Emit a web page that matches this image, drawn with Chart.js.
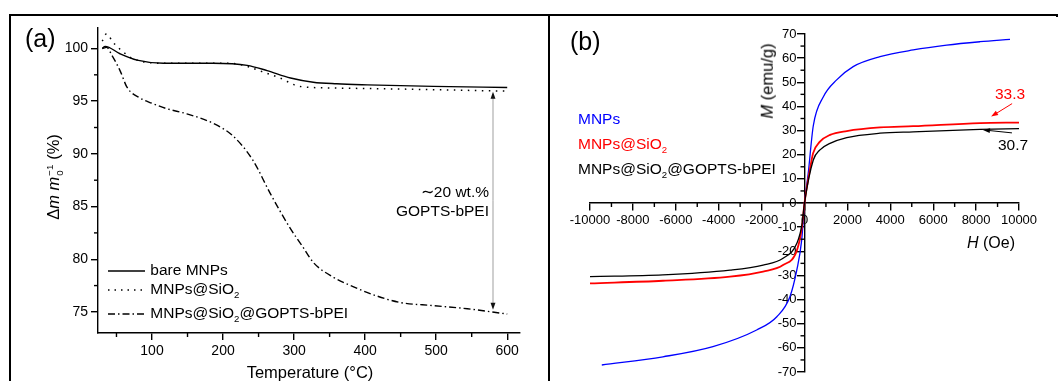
<!DOCTYPE html>
<html>
<head>
<meta charset="utf-8">
<script src="https://cdn.jsdelivr.net/npm/chart.js@4.4.1/dist/chart.umd.min.js"></script>
<style>
  body { margin: 0; width: 1058px; height: 381px; background: #fff; position: relative; overflow: hidden;
         font-family: "Liberation Sans", Arial, sans-serif; color: #000; }
  .abs { position: absolute; white-space: nowrap; line-height: 1; }
  .line { position: absolute; background: #000; }
  canvas { position: absolute; }
  sub, sup { font-size: 62%; line-height: 0; }
  .lg { font-size: 15.5px; }
  .ss { display: inline-flex; flex-direction: column; vertical-align: middle; font-size: 60%; line-height: 1; margin-left: 1px; }
</style>
</head>
<body>
<!-- frame -->
<div class="line" style="left:9px; top:14px; width:1049px; height:2px;"></div>
<div class="line" style="left:9px; top:14px; width:2px; height:367px;"></div>
<div class="line" style="left:548px; top:14px; width:2px; height:367px;"></div>
<div class="line" style="left:1056px; top:14px; width:2px; height:3px;"></div>

<canvas id="tgaChart" width="536" height="365" style="left:12px; top:16px;"></canvas>
<canvas id="magChart" width="508" height="365" style="left:550px; top:16px;"></canvas>

<!-- panel (a) texts -->
<div class="abs" style="left:25px; top:26px; font-size:25px;">(a)</div>
<div class="abs" style="left:55px; top:177px; font-size:16.5px; transform: translate(-50%,-50%) rotate(-90deg);">Δ<i>m</i> <i>m</i><span class="ss"><span>−1</span><span>0</span></span> (%)</div>
<div class="abs" style="left:310px; top:372px; font-size:16.5px; transform: translate(-50%,-50%);">Temperature (°C)</div>
<div class="abs lg" style="right:569px; top:182px; text-align:right; line-height:19px;">∼20 wt.%<br>GOPTS-bPEI</div>

<div class="abs lg" style="left:108px; top:262px;">
  <svg width="38" height="16" style="vertical-align:middle"><line x1="0" y1="8" x2="37" y2="8" stroke="#000" stroke-width="1.4"/></svg> bare MNPs
</div>
<div class="abs lg" style="left:108px; top:281px;">
  <svg width="38" height="16" style="vertical-align:middle"><line x1="0" y1="8" x2="37" y2="8" stroke="#000" stroke-width="1.4" stroke-dasharray="1.5 5"/></svg> MNPs@SiO<sub>2</sub>
</div>
<div class="abs lg" style="left:108px; top:305px;">
  <svg width="38" height="16" style="vertical-align:middle"><line x1="0" y1="8" x2="37" y2="8" stroke="#000" stroke-width="1.4" stroke-dasharray="7 3 1.5 3"/></svg> MNPs@SiO<sub>2</sub>@GOPTS-bPEI
</div>

<!-- panel (b) texts -->
<div class="abs" style="left:570px; top:29px; font-size:25px;">(b)</div>
<div class="abs lg" style="left:578px; top:111px; color:#0000ff;">MNPs</div>
<div class="abs lg" style="left:578px; top:136px; color:#ff0000;">MNPs@SiO<sub>2</sub></div>
<div class="abs lg" style="left:578px; top:161px; color:#000;">MNPs@SiO<sub>2</sub>@GOPTS-bPEI</div>
<div class="abs" style="left:767px; top:81px; font-size:16.5px; transform: translate(-50%,-50%) rotate(-90deg);"><i>M</i> (emu/g)</div>
<div class="abs" style="left:967px; top:235px; font-size:16px;"><i>H</i> (Oe)</div>
<div class="abs lg" style="left:995px; top:86px; color:#ff0000;">33.3</div>
<div class="abs lg" style="left:998px; top:137px;">30.7</div>

<script>
'use strict';

// ---- panel (a): TGA ----
const bareTemp = [30, 34, 55, 79, 116, 186, 234, 262, 295, 327, 360, 403, 496, 600];
const bareMass = [100.0, 100.2, 99.5, 98.9, 98.6, 98.6, 98.4, 97.9, 97.2, 96.8, 96.65, 96.55, 96.4, 96.3];

const silicaTemp = [30, 36, 45, 59, 73, 116, 210, 234, 255, 280, 308, 355, 450, 600];
const silicaMass = [100.7, 101.4, 100.6, 99.7, 99.05, 98.6, 98.6, 98.3, 97.8, 97.2, 96.4, 96.25, 96.15, 95.95];

const peiTemp = [30, 36, 44, 55, 65, 83, 100, 120, 149, 186, 214, 242, 266, 294, 313, 327, 355, 383, 417, 449, 496, 544, 600];
const peiMass = [100.0, 100.1, 99.3, 97.9, 96.3, 95.3, 94.8, 94.3, 93.8, 92.9, 91.7, 89.4, 86.3, 83.0, 81.1, 79.7, 78.3, 77.4, 76.5, 75.9, 75.6, 75.3, 74.8];

const tempTicks = [100, 200, 300, 400, 500, 600];
const tempMinor = [50, 150, 250, 350, 450, 550];
const massTicks = [75, 80, 85, 90, 95, 100];
const massMinor = [77.5, 82.5, 87.5, 92.5, 97.5];

// ---- panel (b): magnetization ----
const mnpH = [-9450, -6600, -4270, -2230, -1290, -680, -360, -130, 0, 170, 410, 880, 1500, 2270, 3520, 5070, 6630, 8180, 9580];
const mnpM = [-67.1, -63.7, -59.5, -52.6, -47.1, -38.8, -27.8, -15.3, 0, 12, 32, 44, 51, 56.5, 60.6, 63.4, 65.4, 66.8, 67.8];

const silicaH = [-10000, -6600, -3470, -1930, -1000, -350, -120, 0, 250, 400, 720, 1190, 1970, 3520, 5070, 8180, 10000];
const silicaM = [-33.3, -32.2, -30.5, -28.4, -25.7, -19.5, -10, 0, 13.7, 20.6, 25.4, 28.2, 29.8, 31.3, 31.8, 33.1, 33.3];

const peiH = [-10000, -6600, -3470, -1930, -1000, -350, -120, 0, 410, 720, 1190, 1970, 3520, 5070, 8180, 10000];
const peiM = [-30.5, -29.8, -27.8, -25.7, -22.9, -16.6, -9, 0, 17.8, 22, 24.7, 27.1, 28.9, 29.5, 30.5, 30.8];

const fieldMinor = [-9000, -7000, -5000, -3000, -1000, 1000, 3000, 5000, 7000, 9000];
const momentMinor = [-65, -55, -45, -35, -25, -15, -5, 5, 15, 25, 35, 45, 55, 65];

// annotations
const lossTemp = 580, lossTop = 95.9, lossBottom = 75.2;
const silicaLabel = { h: 8700, m: 33.3 };
const peiLabel = { h: 8320, m: 30.7 };

const FONT = '"Liberation Sans", Arial, sans-serif';

function toPoints(xs, ys) {
    return xs.map((x, i) => ({ x: x, y: ys[i] }));
}

function minorTickPlugin(xMinor, yMinor, len, axisAt) {
    return {
        id: 'minorTicks',
        afterDraw(chart) {
            const ctx = chart.ctx;
            const at = axisAt(chart);
            ctx.save();
            ctx.strokeStyle = '#000';
            ctx.lineWidth = 1.4;
            xMinor.forEach(v => {
                const px = chart.scales.x.getPixelForValue(v);
                ctx.beginPath();
                ctx.moveTo(px, at.y);
                ctx.lineTo(px, at.y + len);
                ctx.stroke();
            });
            yMinor.forEach(v => {
                const py = chart.scales.y.getPixelForValue(v);
                ctx.beginPath();
                ctx.moveTo(at.x, py);
                ctx.lineTo(at.x - len, py);
                ctx.stroke();
            });
            ctx.restore();
        }
    };
}

function drawArrow(ctx, x0, y0, x1, y1, lineColor, headColor, head) {
    const a = Math.atan2(y1 - y0, x1 - x0);
    const c = Math.cos(a), s = Math.sin(a);
    ctx.strokeStyle = lineColor;
    ctx.beginPath();
    ctx.moveTo(x0, y0);
    ctx.lineTo(x1 - c * head * 0.7, y1 - s * head * 0.7);
    ctx.stroke();
    ctx.fillStyle = headColor;
    ctx.beginPath();
    ctx.moveTo(x1, y1);
    ctx.lineTo(x1 - head * c + head * 0.35 * s, y1 - head * s - head * 0.35 * c);
    ctx.lineTo(x1 - head * c - head * 0.35 * s, y1 - head * s + head * 0.35 * c);
    ctx.closePath();
    ctx.fill();
}

function axisOpts(extra) {
    return Object.assign({
        type: 'linear',
        grid: { drawOnChartArea: false, drawTicks: true, tickLength: 7, color: '#000', lineWidth: 1.4 },
        border: { display: true, color: '#000', width: 1.4 },
        ticks: { color: '#000', font: { family: FONT, size: 14 }, padding: 3 }
    }, extra);
}

// ---------- chart (a) ----------
new Chart('tgaChart', {
    type: 'line',
    data: {
        datasets: [{
            label: 'bare MNPs',
            data: toPoints(bareTemp, bareMass),
            borderColor: '#000', borderWidth: 1.4
        }, {
            label: 'MNPs@SiO2',
            data: toPoints(silicaTemp, silicaMass),
            borderColor: '#000', borderWidth: 1.5, borderDash: [1.5, 5.5]
        }, {
            label: 'MNPs@SiO2@GOPTS-bPEI',
            data: toPoints(peiTemp, peiMass),
            borderColor: '#000', borderWidth: 1.4, borderDash: [7, 3, 1.5, 3]
        }]
    },
    options: {
        responsive: false,
        animation: false,
        events: [],
        layout: { padding: { left: 0, right: 28, top: 5, bottom: 0 } },
        elements: { point: { radius: 0 }, line: { cubicInterpolationMode: 'monotone' } },
        plugins: { legend: { display: false }, tooltip: { enabled: false } },
        scales: {
            x: axisOpts({
                min: 24, max: 618,
                afterBuildTicks: s => { s.ticks = tempTicks.map(v => ({ value: v })); },
                afterFit: s => { s.height = 48; }
            }),
            y: axisOpts({
                min: 73, max: 102,
                afterBuildTicks: s => { s.ticks = massTicks.map(v => ({ value: v })); },
                afterFit: s => { s.width = 86; }
            })
        }
    },
    plugins: [
        minorTickPlugin(tempMinor, massMinor, 4, c => ({ x: c.chartArea.left, y: c.chartArea.bottom })),
        {
            id: 'lossArrow',
            afterDatasetsDraw(chart) {
                const ctx = chart.ctx;
                const x = chart.scales.x.getPixelForValue(lossTemp);
                const yTop = chart.scales.y.getPixelForValue(lossTop);
                const yBot = chart.scales.y.getPixelForValue(lossBottom);
                const mid = (yTop + yBot) / 2;
                ctx.save();
                ctx.lineWidth = 1.3;
                drawArrow(ctx, x, mid, x, yTop, '#b5b5b5', '#111', 7);
                drawArrow(ctx, x, mid, x, yBot, '#b5b5b5', '#111', 7);
                ctx.restore();
            }
        }
    ]
});

// ---------- chart (b) ----------
new Chart('magChart', {
    type: 'line',
    data: {
        datasets: [{
            label: 'MNPs@SiO2@GOPTS-bPEI',
            data: toPoints(peiH, peiM),
            borderColor: '#000', borderWidth: 1.3
        }, {
            label: 'MNPs@SiO2',
            data: toPoints(silicaH, silicaM),
            borderColor: '#ff0000', borderWidth: 1.8
        }, {
            label: 'MNPs',
            data: toPoints(mnpH, mnpM),
            borderColor: '#0000ff', borderWidth: 1.3
        }]
    },
    options: {
        responsive: false,
        animation: false,
        events: [],
        layout: { padding: { left: 40, right: 39, top: 18, bottom: 9 } },
        elements: { point: { radius: 0 }, line: { cubicInterpolationMode: 'monotone' } },
        plugins: { legend: { display: false }, tooltip: { enabled: false } },
        scales: {
            x: axisOpts({
                position: { y: 0 },
                min: -10000, max: 10000,
                ticks: {
                    color: '#000', font: { family: FONT, size: 13 }, padding: 3,
                    stepSize: 2000, maxRotation: 0, autoSkip: false,
                    callback: v => String(v)
                }
            }),
            y: axisOpts({
                position: 'center',
                min: -70, max: 70,
                ticks: {
                    color: '#000', font: { family: FONT, size: 13 }, padding: 1,
                    stepSize: 10, autoSkip: false,
                    callback: v => String(v)
                }
            })
        }
    },
    plugins: [
        minorTickPlugin(fieldMinor, momentMinor, 4, c => ({
            x: c.scales.x.getPixelForValue(0), y: c.scales.y.getPixelForValue(0)
        })),
        {
            id: 'valueArrows',
            afterDatasetsDraw(chart) {
                const ctx = chart.ctx;
                const sx = chart.scales.x, sy = chart.scales.y;
                ctx.save();
                ctx.lineWidth = 1;
                let tx = sx.getPixelForValue(silicaLabel.h), ty = sy.getPixelForValue(silicaLabel.m) - 6;
                drawArrow(ctx, tx + 21, ty - 13, tx, ty, '#ff0000', '#ff0000', 7);
                tx = sx.getPixelForValue(peiLabel.h);
                ty = sy.getPixelForValue(peiLabel.m) + 1;
                drawArrow(ctx, tx + 29, ty + 3, tx, ty, '#000', '#000', 7);
                ctx.restore();
            }
        }
    ]
});
</script>
</body>
</html>
